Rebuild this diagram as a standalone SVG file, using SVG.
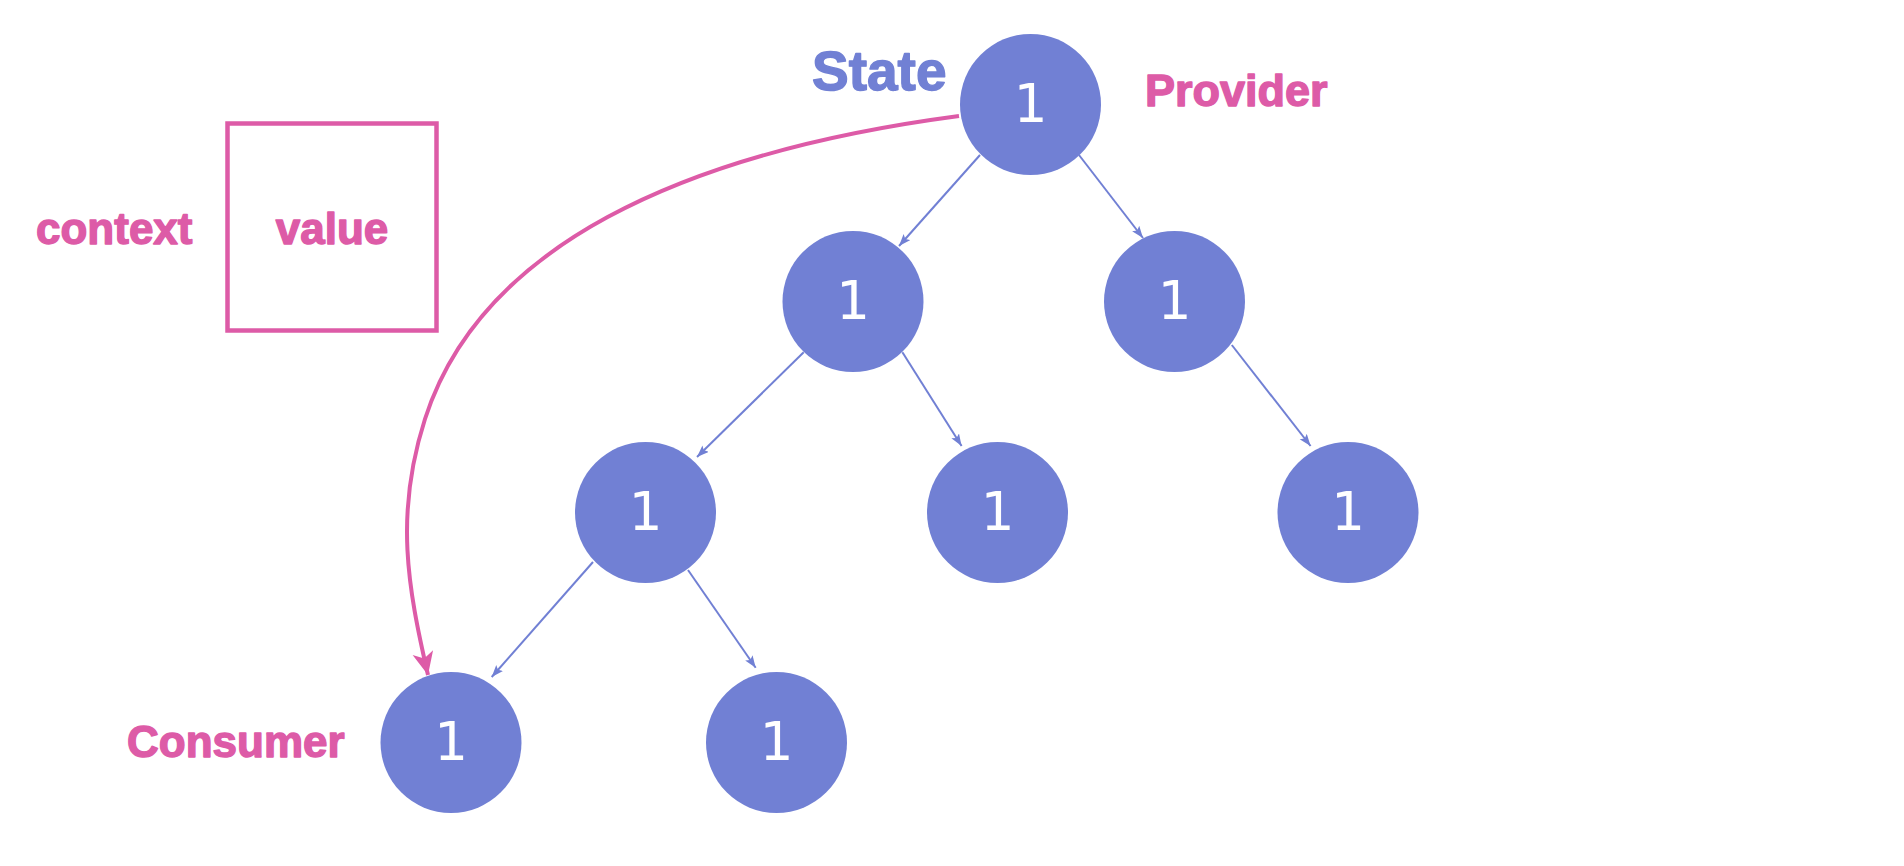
<svg xmlns="http://www.w3.org/2000/svg" width="1904" height="866" viewBox="0 0 1904 866">
<style>
.node{fill:#7180d4;}
.num{font-family:"DejaVu Sans",sans-serif;font-weight:normal;font-size:53px;fill:#ffffff;text-anchor:middle;}
.lbl{font-family:"Liberation Sans",Arial,sans-serif;font-weight:bold;font-size:44px;stroke-width:1.4px;stroke-linejoin:round;}
.pink{fill:#dd5ba7;stroke:#dd5ba7;}
.blue{fill:#7180d4;stroke:#7180d4;}
.edge{stroke:#7180d4;stroke-width:2;fill:none;marker-end:url(#ab);}
.flow{stroke:#dd5ba7;stroke-width:4;fill:none;marker-end:url(#ap);}
</style>
<defs>
<marker id="ab" markerUnits="userSpaceOnUse" markerWidth="14" markerHeight="10" refX="12" refY="4.5" orient="auto">
<path d="M0,0 L12,4.5 L0,9 L2.5,4.5 z" fill="#7180d4"/>
</marker>
<marker id="ap" markerUnits="userSpaceOnUse" markerWidth="26" markerHeight="22" refX="23" refY="10.5" orient="auto">
<path d="M0,0 L23,10.5 L0,21 L6,10.5 z" fill="#dd5ba7"/>
</marker>
</defs>
<rect width="1904" height="866" fill="#ffffff"/>
<g id="context-box">
<rect x="227.5" y="123.5" width="209" height="207" fill="none" stroke="#dd5ba7" stroke-width="4.5"/>
<text class="lbl pink" x="332" y="244" text-anchor="middle">value</text>
</g>
<text id="context-label" class="lbl pink" x="36" y="244">context</text>
<text id="state-label" class="lbl blue" x="812" y="90" style="font-size:55px">State</text>
<text id="provider-label" class="lbl pink" x="1145" y="106" style="font-size:45px">Provider</text>
<text id="consumer-label" class="lbl pink" x="127" y="757">Consumer</text>
<g id="connectors">
<path class="edge" d="M980,155 L899,246"/>
<path class="edge" d="M1079,155 L1143,238"/>
<path class="edge" d="M803.7,352.3 L697,457"/>
<path class="edge" d="M902.4,352.3 L961.6,446"/>
<path class="edge" d="M1231.8,345 L1310.6,446"/>
<path class="edge" d="M593,562 L491.7,677"/>
<path class="edge" d="M688,570 L755.7,667.7"/>
<path class="flow" d="M959,116 C679,153 480,247.6 425,419 C394.4,514.2 407.8,587.3 428,675"/>
</g>
<g id="n0"><circle class="node" cx="1030.5" cy="104.5" r="70.5"/><text class="num" x="1030.5" y="122">1</text></g>
<g id="n1"><circle class="node" cx="853" cy="301.5" r="70.5"/><text class="num" x="853" y="319">1</text></g>
<g id="n2"><circle class="node" cx="1174.5" cy="301.5" r="70.5"/><text class="num" x="1174.5" y="319">1</text></g>
<g id="n3"><circle class="node" cx="645.5" cy="512.5" r="70.5"/><text class="num" x="645.5" y="530">1</text></g>
<g id="n4"><circle class="node" cx="997.5" cy="512.5" r="70.5"/><text class="num" x="997.5" y="530">1</text></g>
<g id="n5"><circle class="node" cx="1348" cy="512.5" r="70.5"/><text class="num" x="1348" y="530">1</text></g>
<g id="n6"><circle class="node" cx="451" cy="742.5" r="70.5"/><text class="num" x="451" y="760">1</text></g>
<g id="n7"><circle class="node" cx="776.5" cy="742.5" r="70.5"/><text class="num" x="776.5" y="760">1</text></g>
</svg>
